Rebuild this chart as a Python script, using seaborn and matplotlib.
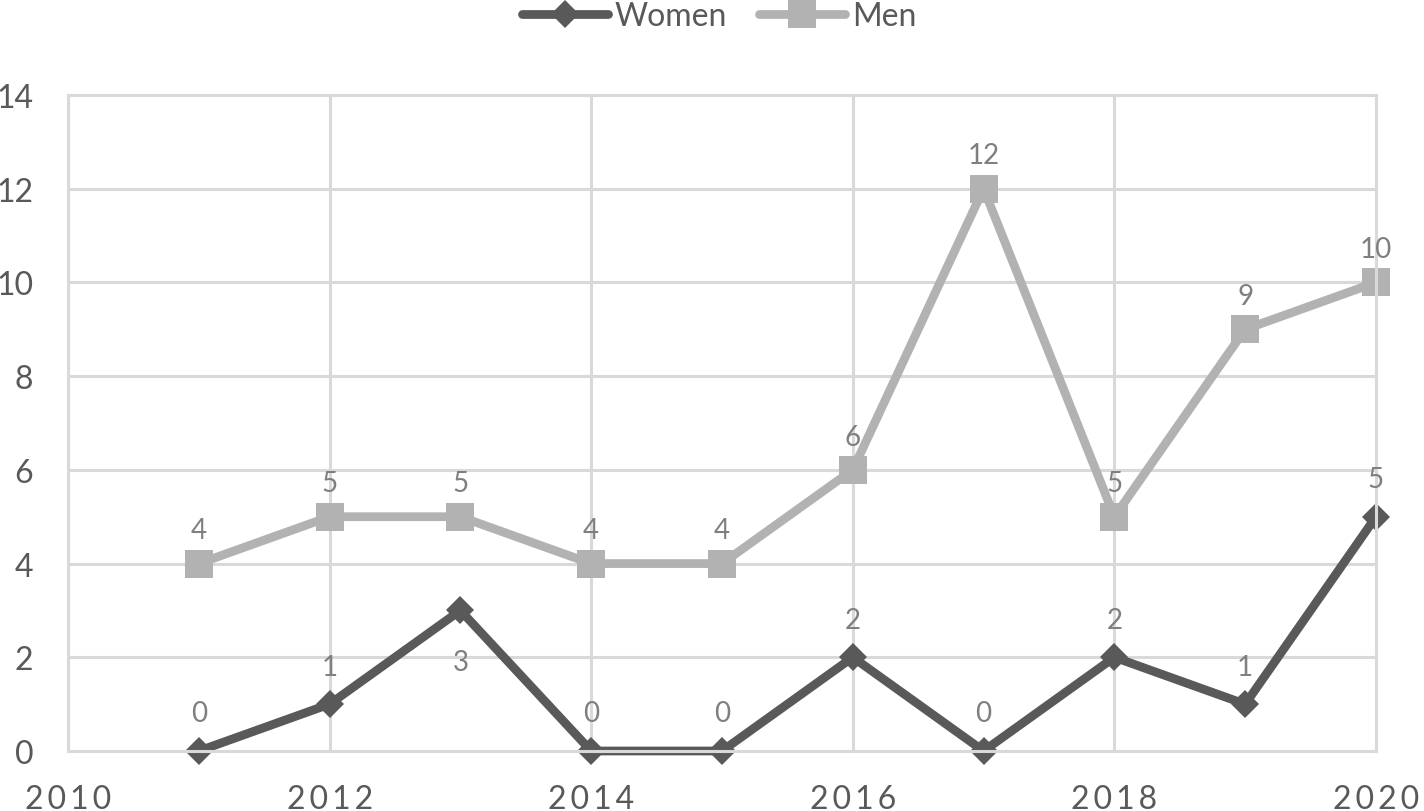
import matplotlib
matplotlib.use("Agg")
import matplotlib.pyplot as plt
import seaborn as sns

# data
years = [2011, 2012, 2013, 2014, 2015, 2016, 2017, 2018, 2019, 2020]
women = [0, 1, 3, 0, 0, 2, 0, 2, 1, 5]
men = [4, 5, 5, 4, 4, 6, 12, 5, 9, 10]
x_ticks = [2010, 2012, 2014, 2016, 2018, 2020]
y_ticks = [0, 2, 4, 6, 8, 10, 12, 14]

women_color = "#595959"
men_color = "#b2b2b2"
grid_color = "#d9d9d9"
label_color = "#7f7f7f"

sns.set_style("white")
plt.rcParams['font.family'] = ['Lato', 'DejaVu Sans']

fig = plt.figure(figsize=(14.24, 8.12), dpi=100)
ax = fig.add_axes([68 / 1424, 1 - 752 / 812, (1376 - 68) / 1424, (752 - 96) / 812])

sns.lineplot(x=years, y=women, ax=ax, color=women_color, linewidth=6.3,
             marker="D", markersize=14.5, markeredgewidth=0, label="Women",
             solid_joinstyle="round", solid_capstyle="round", clip_on=False)
sns.lineplot(x=years, y=men, ax=ax, color=men_color, linewidth=6.3,
             marker="s", markersize=19.5, markeredgewidth=0, label="Men",
             solid_joinstyle="round", solid_capstyle="round", clip_on=False)

# data labels
for x, v in zip(years, men):
    ax.annotate(str(v), (x, v), xytext=(0, 24), textcoords="offset points",
                ha="center", va="center", fontsize=20, color=label_color)
for x, v in zip(years, women):
    dy = -37 if x == 2013 else 27
    ax.annotate(str(v), (x, v), xytext=(0, dy), textcoords="offset points",
                ha="center", va="center", fontsize=20, color=label_color)

ax.set_xlim(2010, 2020)
ax.set_ylim(0, 14)
ax.set_xticks(x_ticks)
ax.set_xticklabels(["\u2009".join(str(t)) for t in x_ticks])
ax.set_yticks(y_ticks)
ax.tick_params(axis="both", length=0, labelsize=23, colors="#595959")
ax.tick_params(axis="x", pad=24)
ax.tick_params(axis="y", pad=25)
ax.grid(True, color=grid_color, linewidth=2.2)
ax.set_axisbelow(True)
for s in ax.spines.values():
    s.set_color(grid_color)
    s.set_linewidth(2.2)

ax.legend_.remove()
handles, labels = ax.get_legend_handles_labels()
fig.legend(handles, labels, loc="upper center", bbox_to_anchor=(0.505, 1.033),
           ncol=2, frameon=False, fontsize=23, handlelength=2.7,
           columnspacing=1.0, handletextpad=0.2, labelcolor="#595959")

fig.savefig("out.png", dpi=100)
